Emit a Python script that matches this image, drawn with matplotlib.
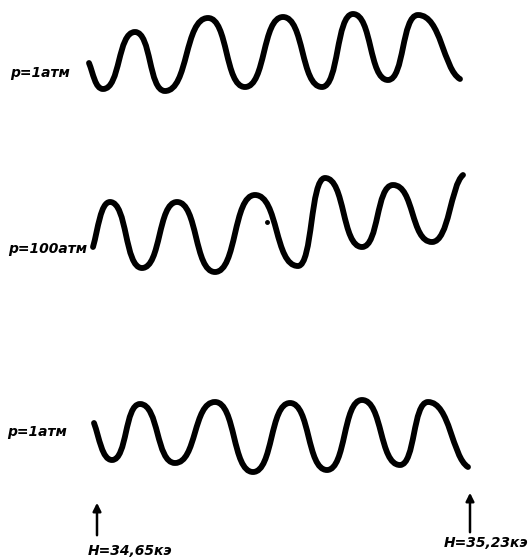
import matplotlib.pyplot as plt
from matplotlib.path import Path
from matplotlib.patches import PathPatch

# trace points (extrema), in image pixels
top_x = [89, 103, 135, 165, 208, 245, 283, 322, 353, 388, 418, 460]
top_y = [63, 89, 32, 91, 18, 87, 17, 87, 14, 80, 15, 79]

mid_x = [93, 110, 142, 177, 215, 255, 298, 325, 362, 393, 432, 463]
mid_y = [247, 202, 268, 202, 272, 195, 266, 178, 247, 185, 242, 175]

bot_x = [94, 112, 140, 175, 215, 253, 290, 327, 362, 400, 428, 468]
bot_y = [423, 460, 404, 463, 402, 472, 403, 470, 400, 465, 402, 467]

labels = ['p=1атм', 'p=100атм', 'p=1атм']
label_y = [73, 249, 432]
field_labels = ['H=34,65кэ', 'H=35,23кэ']


def wave_path(xs, ys):
    verts = [(xs[0], ys[0])]
    codes = [Path.MOVETO]
    n = len(xs)
    for i in range(n - 1):
        x0, y0, x1, y1 = xs[i], ys[i], xs[i + 1], ys[i + 1]
        d = 0.55 * (x1 - x0)
        if i == 0:
            c1 = (x0 + 0.3 * (x1 - x0), y0 + 0.4 * (y1 - y0))
        else:
            c1 = (x0 + d, y0)
        if i == n - 2:
            c2 = (x1 - 0.4 * (x1 - x0), y1 - 0.15 * (y1 - y0))
        else:
            c2 = (x1 - d, y1)
        verts += [c1, c2, (x1, y1)]
        codes += [Path.CURVE4] * 3
    return Path(verts, codes)


fig = plt.figure(figsize=(5.3, 5.59), dpi=100)
ax = fig.add_axes([0, 0, 1, 1])
ax.set_xlim(0, 530)
ax.set_ylim(559, 0)
ax.axis('off')

for xs, ys in [(top_x, top_y), (mid_x, mid_y), (bot_x, bot_y)]:
    ax.add_patch(PathPatch(wave_path(xs, ys), fill=False, lw=4.2,
                           color='black', capstyle='round', joinstyle='round'))

# small speck near the middle trace
ax.plot(267, 222, 'o', color='black', ms=2.5)

font = dict(fontsize=10, fontweight='bold', fontstyle='italic', color='black')
for lab, y, x in zip(labels, label_y, [10, 8, 7]):
    ax.text(x, y, lab, va='center', ha='left', **font)

# field markers
ax.annotate('', xy=(97, 500), xytext=(97, 538),
            arrowprops=dict(arrowstyle='-|>', lw=1.8, color='black', mutation_scale=12))
ax.annotate('', xy=(470, 490), xytext=(470, 535),
            arrowprops=dict(arrowstyle='-|>', lw=1.8, color='black', mutation_scale=12))
ax.text(88, 551, field_labels[0], va='center', ha='left', **font)
ax.text(528, 543, field_labels[1], va='center', ha='right', **font)

fig.savefig('out.png', dpi=100, facecolor='white')
